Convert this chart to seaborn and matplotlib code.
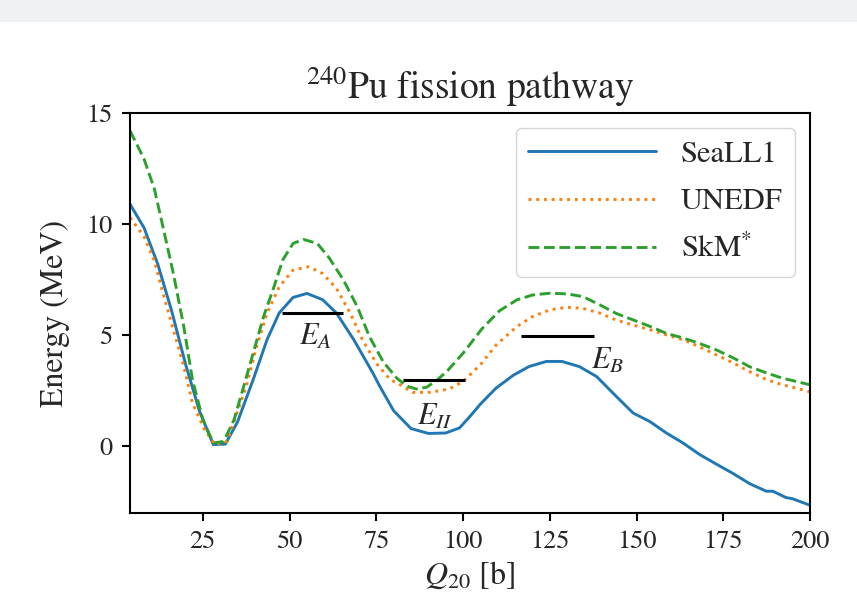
import matplotlib
matplotlib.use("Agg")
import matplotlib.pyplot as plt
import seaborn as sns
import pandas as pd
from matplotlib.patches import Rectangle

# ---- data ----
seall1_q = [4, 8, 12, 16, 20, 24, 28, 31.5, 35, 39.5, 43.5, 47, 51, 55, 59.5, 63.5, 68.5, 74, 76, 80,
            85, 90, 95, 99, 102, 105, 109.5, 114.5, 119, 124, 128.5, 133.5, 138.5, 143.5, 149, 153.8,
            158.6, 163.4, 168.2, 173, 177.8, 182.6, 187.4, 189.3, 193, 195, 200]
seall1_e = [10.9, 9.85, 8.2, 6.1, 3.7, 1.6, 0.08, 0.1, 1.1, 3.0, 4.8, 6.0, 6.7, 6.88, 6.6, 6.0, 4.8, 3.3,
            2.7, 1.6, 0.8, 0.58, 0.6, 0.83, 1.35, 1.9, 2.62, 3.2, 3.59, 3.82, 3.82, 3.59, 3.14, 2.35,
            1.5, 1.12, 0.6, 0.15, -0.37, -0.8, -1.22, -1.68, -2.02, -2.02, -2.3, -2.36, -2.65]

unedf_q = [4, 8, 11, 13.5, 16.5, 19.5, 22, 25.5, 28.5, 32, 34.5, 37.5, 40.5, 43.5, 47, 51, 55.5, 59.5,
           63.5, 67.5, 71, 75, 79, 81, 85.5, 90.5, 96, 100, 105, 109.6, 115.5, 120, 125, 130,
           134.5, 139.5, 144, 149, 154, 158.5, 163.5, 168, 173, 178, 182.5, 187.5, 192, 196, 200]
unedf_e = [10.3, 9.45, 8.35, 6.9, 5.24, 3.6, 1.95, 0.75, 0.08, 0.22, 1.35, 2.69, 4.49, 5.99, 7.18, 7.93,
           8.08, 7.78, 7.11, 5.99, 4.79, 3.74, 3.0, 2.85, 2.43, 2.43, 2.58, 2.92, 3.67, 4.57, 5.39,
           5.84, 6.14, 6.26, 6.21, 5.99, 5.69, 5.46, 5.24, 5.02, 4.79, 4.49, 4.12, 3.74, 3.37, 3.0,
           2.77, 2.62, 2.45]

skm_q = [4, 8, 11, 13.5, 16.5, 19.5, 22, 25, 28, 31, 34, 36.5, 39.5, 42.5, 45.5, 48, 51, 54, 58, 61.5,
         65.5, 69.5, 73, 77, 81, 84, 86.5, 89.5, 92.5, 95.5, 100, 105.5, 110.5, 115.5, 120, 125, 130,
         134.5, 139.5, 144, 149, 154, 158.5, 163.5, 168, 173, 178, 182.5, 187.5, 192, 196, 200]
skm_e = [14.2, 12.95, 11.6, 9.88, 7.78, 5.39, 3.0, 1.2, 0.15, 0.22, 1.2, 2.55, 4.19, 5.84, 7.18, 8.38,
         9.13, 9.31, 9.13, 8.46, 7.49, 6.29, 4.94, 3.8, 3.05, 2.7, 2.58, 2.66, 2.98, 3.4, 4.19, 5.3,
         6.1, 6.59, 6.81, 6.89, 6.86, 6.74, 6.36, 5.99, 5.69, 5.39, 5.09, 4.87, 4.64, 4.34, 3.97,
         3.59, 3.3, 3.07, 2.92, 2.77]

barrier_names = [r"$E_A$", r"$E_{II}$", r"$E_B$"]
barrier_energy = [6.0, 3.0, 4.95]
barrier_qmin = [47.7, 82.7, 116.8]
barrier_qmax = [65.5, 100.5, 137.7]
label_q = [57.3, 92.0, 141.8]
label_e = [4.9, 1.3, 3.85]

series_names = ["SeaLL1", "UNEDF", r"SkM$^{*}$"]
series_colors = ["#1f77b4", "#ff7f0e", "#2ca02c"]
series_styles = ["-", ":", "--"]

# ---- style ----
sns.set_style("ticks")
plt.rcParams["font.family"] = ["STIXGeneral", "Liberation Serif", "DejaVu Serif"]
plt.rcParams["mathtext.fontset"] = "stix"
plt.rcParams["axes.linewidth"] = 1.5
plt.rcParams["axes.edgecolor"] = "black"

fig = plt.figure(figsize=(8.57, 6.13), dpi=100)
fig.patches.append(Rectangle((0, 1 - 22 / 613), 1, 22 / 613, transform=fig.transFigure,
                             facecolor="#f0f1f5", edgecolor="none", zorder=0))
ax = fig.add_axes([130 / 857, 1 - 513 / 613, 680 / 857, 400 / 613])

frames = [
    pd.DataFrame({"Q20": seall1_q, "E": seall1_e}),
    pd.DataFrame({"Q20": unedf_q, "E": unedf_e}),
    pd.DataFrame({"Q20": skm_q, "E": skm_e}),
]
for df, name, col, ls in zip(frames, series_names, series_colors, series_styles):
    sns.lineplot(data=df, x="Q20", y="E", ax=ax, color=col, linestyle=ls, lw=2.1,
                 label=name, estimator=None, sort=True)

ax.hlines(barrier_energy, barrier_qmin, barrier_qmax, colors="black", lw=2.2, zorder=3)
for name, xq, ye in zip(barrier_names, label_q, label_e):
    ax.text(xq, ye, name, fontsize=22, ha="center", va="center")

ax.set_xlim(4, 200)
ax.set_ylim(-3, 15)
ax.set_xticks([25, 50, 75, 100, 125, 150, 175, 200])
ax.set_yticks([0, 5, 10, 15])
ax.tick_params(axis="both", labelsize=19, length=5.5, width=1.5, pad=7, direction="out", color="black")
ax.set_xlabel(r"$Q_{20}$ [b]", fontsize=23, labelpad=4)
ax.set_ylabel("Energy (MeV)", fontsize=23, labelpad=12)
ax.set_title(r"$^{240}$Pu fission pathway", fontsize=27, pad=10)

leg = ax.legend(loc="upper right", fontsize=22, handlelength=4.2, labelspacing=0.62, frameon=True,
                fancybox=True, edgecolor="#cccccc", framealpha=0.8)
for s in ax.spines.values():
    s.set_visible(True)
    s.set_linewidth(1.5)

fig.savefig("out.png", dpi=100)
